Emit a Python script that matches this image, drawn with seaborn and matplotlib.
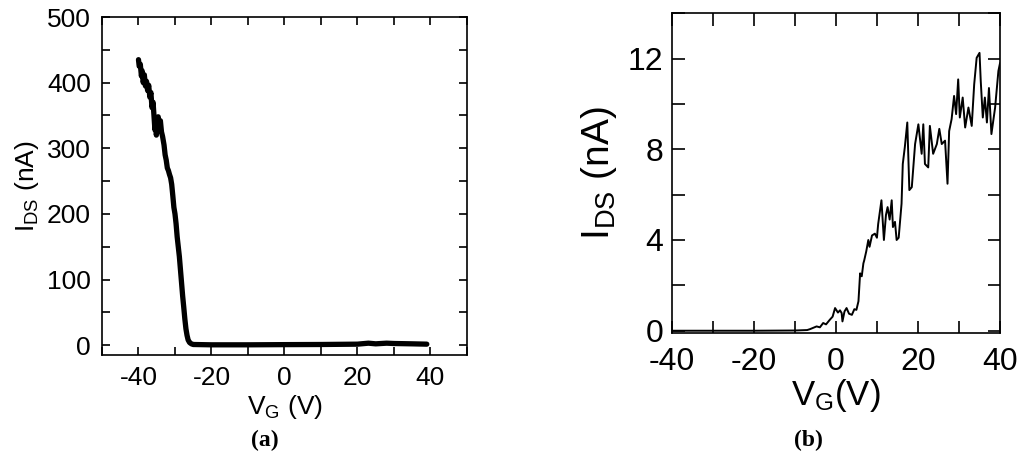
import matplotlib
matplotlib.use("Agg")
import matplotlib.pyplot as plt
import seaborn as sns
from matplotlib.ticker import MultipleLocator

# panel (a): I_DS vs V_G
vg_a = [-40.0, -39.8, -39.5, -39.2, -39.0, -38.7, -38.4, -38.1, -37.8, -37.5,
        -37.2, -36.9, -36.6, -36.3, -36.0, -35.7, -35.5, -35.3, -35.1, -34.9,
        -34.6, -34.3, -34.0, -33.7, -33.4, -33.0, -32.7, -32.4, -32.1, -31.8,
        -31.5, -31.2, -30.9, -30.6, -30.3, -30.0, -29.7, -29.4, -29.1, -28.8,
        -28.5, -28.2, -27.9, -27.6, -27.3, -27.0, -26.7, -26.4, -26.0, -25.5,
        -25.0, -20.0, -10.0, 0.0, 10.0, 20.0, 23.0, 25.0, 28.0, 30.0, 35.0, 39.0]
ids_a = [435, 425, 428, 410, 418, 400, 412, 395, 402, 388,
         396, 378, 385, 362, 370, 345, 328, 340, 320, 335,
         348, 330, 342, 325, 318, 305, 290, 282, 270, 266,
         260, 255, 245, 228, 210, 200, 185, 165, 150, 135,
         115, 95, 75, 58, 40, 25, 15, 8, 4, 2,
         1, 0.5, 0.5, 0.8, 1.0, 1.5, 3.0, 2.0, 3.0, 2.5, 2.0, 1.5]

# panel (b)
vg_b = [-40.0, -30.0, -20.0, -10.0, -7.0, -6.3, -4.7, -3.9, -3.1, -2.4, -1.5,
        -0.8, -0.2, 0.5, 1.0, 1.4, 1.6, 2.1, 2.6, 3.2, 3.9, 4.5, 5.0, 5.5,
        5.9, 6.3, 6.7, 6.9, 7.4, 7.9, 8.2, 8.8, 9.5, 10.0, 10.3, 11.1, 11.7,
        12.2, 12.6, 13.1, 13.6, 13.9, 14.4, 14.8, 15.3, 16.0, 16.3, 16.8, 17.4,
        17.9, 18.5, 19.3, 20.1, 20.9, 21.3, 21.7, 22.5, 22.9, 23.7, 24.6, 25.2,
        25.8, 26.6, 27.2, 27.6, 28.2, 28.8, 29.3, 29.8, 30.2, 30.9, 31.5, 32.3,
        33.1, 33.7, 34.3, 35.0, 35.3, 35.8, 36.3, 36.8, 37.3, 37.9, 38.8, 39.6, 40.0]
ids_b = [0.0, 0.0, 0.0, 0.01, 0.03, 0.07, 0.19, 0.15, 0.34, 0.28, 0.48,
         0.62, 1.0, 0.8, 0.9, 0.78, 0.41, 0.85, 1.0, 0.75, 0.7, 0.95, 0.92, 1.3,
         2.53, 2.4, 2.97, 3.1, 3.5, 4.0, 3.7, 4.2, 4.28, 4.1, 4.7, 5.75, 4.0,
         5.1, 5.45, 4.9, 5.75, 4.57, 4.8, 4.0, 4.1, 5.6, 7.35, 8.1, 9.18,
         6.2, 6.33, 8.23, 9.1, 7.8, 9.1, 7.35, 7.2, 9.03, 7.8, 8.23, 8.9,
         8.23, 8.38, 6.48, 8.8, 9.33, 10.35, 9.55, 11.08, 9.4, 10.28, 8.96, 9.84,
         9.03, 10.86, 12.03, 12.25, 11.0, 9.4, 10.28, 9.18, 10.7, 8.67, 9.84, 11.45, 11.8]

sns.set_style("ticks")
plt.rcParams["font.family"] = ["Liberation Sans", "DejaVu Sans"]
plt.rcParams["mathtext.default"] = "regular"
plt.rcParams["axes.unicode_minus"] = False
for key in ("text.color", "axes.labelcolor", "xtick.color", "ytick.color"):
    plt.rcParams[key] = "black"

fig = plt.figure(figsize=(10.24, 4.70), dpi=100)
ax1 = fig.add_axes([0.0996, 0.2447, 0.3564, 0.7191])
ax2 = fig.add_axes([0.656, 0.2915, 0.3206, 0.6805])

sns.lineplot(x=vg_a, y=ids_a, ax=ax1, sort=False, estimator=None,
             color="black", linewidth=3.8)
ax1.set_xlim(-50, 50)
ax1.set_ylim(-15, 500)
ax1.xaxis.set_major_locator(MultipleLocator(20))
ax1.xaxis.set_minor_locator(MultipleLocator(10))
ax1.yaxis.set_major_locator(MultipleLocator(100))
ax1.yaxis.set_minor_locator(MultipleLocator(50))
ax1.tick_params(which="both", direction="in", top=True, right=True,
                length=6, width=1.2, labelsize=19, pad=8)
ax1.set_xlabel("V$_G$ (V)", fontsize=19, labelpad=2)
ax1.set_ylabel("I$_{DS}$ (nA)", fontsize=19, labelpad=4)

sns.lineplot(x=vg_b, y=ids_b, ax=ax2, sort=False, estimator=None,
             color="black", linewidth=1.4)
ax2.set_xlim(-40, 40)
ax2.set_ylim(-0.1, 14)
ax2.xaxis.set_major_locator(MultipleLocator(20))
ax2.xaxis.set_minor_locator(MultipleLocator(10))
ax2.yaxis.set_major_locator(MultipleLocator(4))
ax2.yaxis.set_minor_locator(MultipleLocator(2))
ax2.tick_params(which="both", direction="in", top=True, right=True,
                length=9, width=1.2, labelsize=23, pad=6)
ax2.tick_params(axis="x", pad=10)
ax2.set_xlabel("V$_G$(V)", fontsize=25, labelpad=0)
ax2.set_ylabel("I$_{DS}$ (nA)", fontsize=28, labelpad=6)

for ax in (ax1, ax2):
    for s in ax.spines.values():
        s.set_linewidth(1.2)
        s.set_color("black")

fig.text(265 / 1024, 1 - 440 / 470, "(a)", ha="center", va="center",
         fontsize=17, fontweight="bold", family="Liberation Serif")
fig.text(808 / 1024, 1 - 440 / 470, "(b)", ha="center", va="center",
         fontsize=17, fontweight="bold", family="Liberation Serif")

fig.savefig("out.png", dpi=100)
